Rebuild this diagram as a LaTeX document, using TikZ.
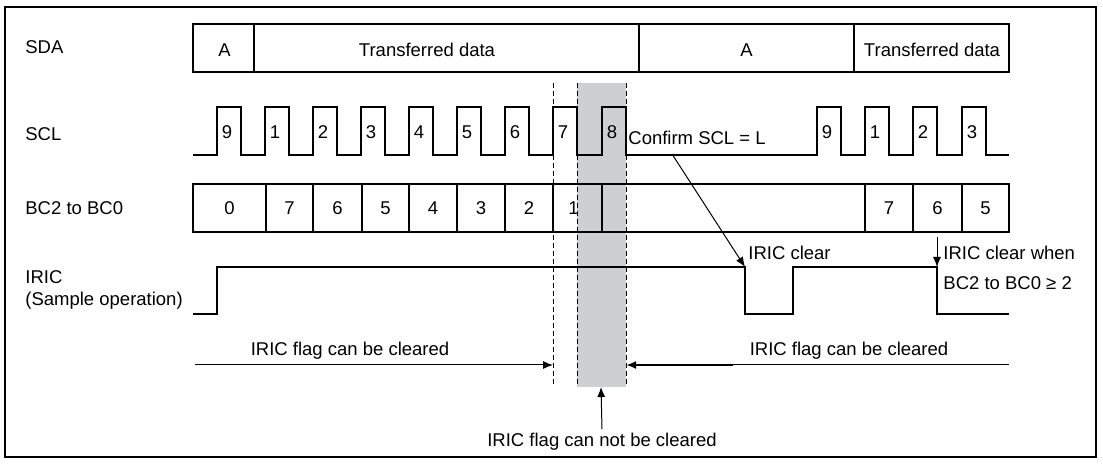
\documentclass[tikz,border=0pt]{standalone}
\usepackage{fontspec}
\setmainfont{Liberation Sans}
\usetikzlibrary{arrows.meta}
\definecolor{band}{RGB}{206,207,209}
\tikzset{
  sig/.style={line width=1pt},
  cell/.style={inner sep=0pt},
  lbl/.style={inner sep=0pt, anchor=west},
  note/.style={inner sep=0pt, anchor=base west},
  guide/.style={line width=0.5pt, dash pattern=on 2.5pt off 1.5pt},
  pointer/.style={line width=0.5pt, -{Latex[length=5pt,width=4pt]}},
}

\begin{document}
\begin{tikzpicture}[x=0.5pt, y=-0.5pt, font=\fontsize{9.25pt}{11pt}\selectfont]
    \useasboundingbox (0,0) rectangle (1103,464);
    % Frame
    \draw[sig] (5,7) rectangle (1096,457);
    % Signal names
    \node[lbl] (sda) at (25,47) {SDA};
    \node[lbl] (scl) at (25,134) {SCL};
    \node[lbl] (bc) at (25,208) {BC2 to BC0};
    \node[note] (iric) at (25,284) {IRIC};
    \node[note] (sample) at (25,306) {(Sample operation)};
    % BC2 to BC0 values (the 1 sits half under the band)
    \foreach \x/\v [count=\i] in {229.5/0, 289.5/7, 337.5/6, 385.5/5, 433/4, 481/3, 529/2, 573.5/1, 889/7, 937.5/6, 985.5/5}
        \node[cell] (bc\i) at (\x,208) {\v};
    % Band where IRIC can not be cleared
    \fill[band] (577,83) rectangle (626,387);
    \foreach \x in {553,577,626}
        \draw[guide] (\x,83) -- (\x,387);
    % SDA
    \draw[sig] (193,24) rectangle (1009,72);
    \foreach \x in {254,639,854}
        \draw[sig] (\x,24) -- (\x,72);
    \node[cell] (ack1) at (224.5,50) {A};
    \node[cell] (data1) at (427,50) {Transferred data};
    \node[cell] (ack2) at (746.5,50) {A};
    \node[cell] (data2) at (932,50) {Transferred data};
    % SCL
    \draw[sig] (193,155) \foreach \r in {217,265,313,361,409,457,505,553,602,817,865,913,962} {
        -- (\r,155) -- (\r,107) -- (\r+24,107) -- (\r+24,155) } -- (1009,155);
    \foreach \r/\n [count=\i] in {217/9, 265/1, 313/2, 361/3, 409/4, 457/5, 505/6, 553/7, 602/8, 817/9, 865/1, 913/2, 962/3}
        \node[cell] (clk\i) at (\r+10,132) {\n};
    % BC2 to BC0
    \draw[sig] (193,184) rectangle (1009,232);
    \foreach \x in {266,313,362,409,457,505,553,602,865,913,962}
        \draw[sig] (\x,184) -- (\x,232);
    % IRIC
    \draw[sig] (193,314) -- (217,314) -- (217,267) -- (745,267) -- (745,314)
        -- (793,314) -- (793,267) -- (937,267) -- (937,314) -- (1009,314);
    \coordinate (clr) at (745,267);
    \coordinate (clr2) at (937,267);
    % Notes
    \node[lbl] (confirm) at (628,138) {Confirm SCL = L};
    \coordinate (cfm) at (672,154);
    \draw[pointer] (cfm) -- (clr);
    \node[note] (clrtxt) at (748,260) {IRIC clear};
    \coordinate (bcfoot) at (937,237);
    \draw[pointer] (bcfoot) -- (clr2);
    \node[note] (when) at (943,260) {IRIC clear when};
    \node[note] (when2) at (943,290) {BC2 to BC0 ≥ 2};
    % Flag ranges
    \coordinate (startL) at (195,365);
    \coordinate (gapL) at (553,365);
    \coordinate (gapR) at (626,365);
    \coordinate (kink) at (733,365);
    \coordinate (endR) at (1009,365);
    \draw[pointer] (startL) -- (gapL);
    \draw[line width=0.5pt] (endR) -- (kink);
    \draw[pointer, line width=1pt] (kink) -- (gapR);
    \node[cell, anchor=base] (canL) at (350,356) {IRIC flag can be cleared};
    \node[cell, anchor=base] (canR) at (849,356) {IRIC flag can be cleared};
    \node[cell, anchor=base] (cannot) at (602,447) {IRIC flag can not be cleared};
    \coordinate (bandfoot) at (601,387);
    \draw[pointer] ([yshift=2pt]cannot.north) -- (bandfoot);
\end{tikzpicture}
\end{document}
